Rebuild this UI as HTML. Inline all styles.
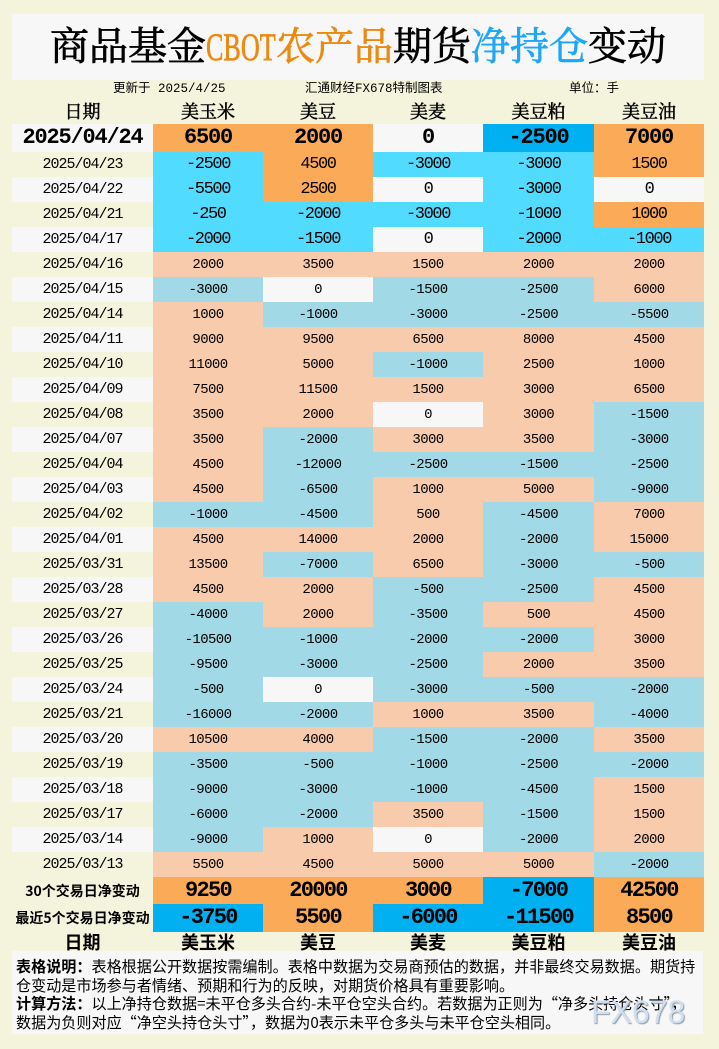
<!DOCTYPE html>
<html><head><meta charset="utf-8">
<style>
*{margin:0;padding:0;box-sizing:border-box}
html,body{width:719px;height:1049px;overflow:hidden;background:#f4f4dc}
body{position:relative;font-family:"Liberation Sans","Noto Sans CJK SC",sans-serif;color:#000}
.title{position:absolute;left:12px;top:14px;width:692px;height:66px;background:#f7f7f7;text-align:center;font-family:"Liberation Serif","Noto Serif CJK SC",serif;font-size:39px;line-height:68px;white-space:nowrap;-webkit-text-stroke:0.7px currentColor}
.title .cb{display:inline-block;width:70px;overflow:visible;vertical-align:top}
.title .cb span{display:inline-block;transform:scaleX(0.67);transform-origin:0 0;font-family:"Liberation Serif",serif}
.or{color:#ec8a10}.bl{color:#1ea6f8}
.meta{position:absolute;top:81px;font-family:"Liberation Mono","Noto Sans CJK SC",monospace;font-size:12.5px;line-height:16px;white-space:nowrap}
.hd{position:absolute;top:100px;height:22px;line-height:22px;text-align:center;font-family:"Noto Serif CJK SC",serif;font-size:18px;-webkit-text-stroke:0.5px #000;white-space:nowrap}
.ft{position:absolute;top:932px;height:20px;line-height:20px;text-align:center;font-family:"Noto Sans CJK SC",sans-serif;font-weight:bold;font-size:18px;white-space:nowrap}
table{position:absolute;left:12px;top:124px;border-collapse:collapse;table-layout:fixed;width:692px}
td{padding:0;text-align:center;vertical-align:middle;line-height:1;white-space:nowrap;font-family:"Liberation Mono",monospace}
tr{height:25px}
tr.t td{font-size:17px;letter-spacing:-1.4px}
tr td{font-size:14px;letter-spacing:-0.6px}
tr.top{height:28px}
tr.top td{font-size:22px;font-weight:bold;letter-spacing:-1.2px}
tr.s1{height:27px}
tr.s2{height:28px}
tr.s1 td,tr.s2 td{font-size:22px;font-weight:bold;letter-spacing:-1.7px}
tr.s1 td.lab,tr.s2 td.lab{font-family:"Noto Sans CJK SC",sans-serif;font-size:14px;letter-spacing:0;font-weight:bold}
tr td.d{font-size:15px;letter-spacing:-1px}
tr.top td.d{font-size:22px;letter-spacing:-1.2px}
.o{background:#fbab58}.c{background:#51dcff}.b{background:#00b0f0}
.p{background:#f8cbad}.l{background:#a2d9e6}.z{background:#f7f7f7}
.notes{position:absolute;left:12px;top:951px;width:691px;height:83px;background:#f7f7f7;padding:6px 0 0 4px;font-family:"Noto Sans CJK SC",sans-serif;font-size:15.1px;line-height:18.5px;white-space:nowrap;overflow:hidden}
.notes b{font-weight:bold}
.wm{position:absolute;left:591px;top:996px;font-family:"Liberation Sans",sans-serif;font-size:32px;line-height:32px;color:#cfdff0;text-shadow:1px 1px 1px #8f99a6;letter-spacing:0}
</style></head><body>
<div class="title">商品基金<span class="or"><span class="cb"><span>CBOT</span></span>农产品</span>期货<span class="bl">净持仓</span>变动</div>
<div class="meta" style="left:113px">更新于 2025/4/25</div>
<div class="meta" style="left:305px">汇通财经FX678特制图表</div>
<div class="meta" style="left:569px">单位：手</div>

<div class="hd" style="left:12px;width:141px">日期</div>
<div class="hd" style="left:153px;width:110px">美玉米</div>
<div class="hd" style="left:263px;width:110px">美豆</div>
<div class="hd" style="left:373px;width:110px">美麦</div>
<div class="hd" style="left:483px;width:111px">美豆粕</div>
<div class="hd" style="left:594px;width:110px">美豆油</div>

<table>
<colgroup><col style="width:141px"><col style="width:110px"><col style="width:110px"><col style="width:110px"><col style="width:111px"><col style="width:110px"></colgroup>
<tr class="top"><td class="d z">2025/04/24</td><td class="o">6500</td><td class="o">2000</td><td class="z">0</td><td class="b">-2500</td><td class="o">7000</td></tr>
<tr class="t"><td class="d">2025/04/23</td><td class="c">-2500</td><td class="o">4500</td><td class="c">-3000</td><td class="c">-3000</td><td class="o">1500</td></tr>
<tr class="t"><td class="d z">2025/04/22</td><td class="c">-5500</td><td class="o">2500</td><td class="z">0</td><td class="c">-3000</td><td class="z">0</td></tr>
<tr class="t"><td class="d">2025/04/21</td><td class="c">-250</td><td class="c">-2000</td><td class="c">-3000</td><td class="c">-1000</td><td class="o">1000</td></tr>
<tr class="t"><td class="d z">2025/04/17</td><td class="c">-2000</td><td class="c">-1500</td><td class="z">0</td><td class="c">-2000</td><td class="c">-1000</td></tr>
<tr><td class="d">2025/04/16</td><td class="p">2000</td><td class="p">3500</td><td class="p">1500</td><td class="p">2000</td><td class="p">2000</td></tr>
<tr><td class="d z">2025/04/15</td><td class="l">-3000</td><td class="z">0</td><td class="l">-1500</td><td class="l">-2500</td><td class="p">6000</td></tr>
<tr><td class="d">2025/04/14</td><td class="p">1000</td><td class="l">-1000</td><td class="l">-3000</td><td class="l">-2500</td><td class="l">-5500</td></tr>
<tr><td class="d z">2025/04/11</td><td class="p">9000</td><td class="p">9500</td><td class="p">6500</td><td class="p">8000</td><td class="p">4500</td></tr>
<tr><td class="d">2025/04/10</td><td class="p">11000</td><td class="p">5000</td><td class="l">-1000</td><td class="p">2500</td><td class="p">1000</td></tr>
<tr><td class="d z">2025/04/09</td><td class="p">7500</td><td class="p">11500</td><td class="p">1500</td><td class="p">3000</td><td class="p">6500</td></tr>
<tr><td class="d">2025/04/08</td><td class="p">3500</td><td class="p">2000</td><td class="z">0</td><td class="p">3000</td><td class="l">-1500</td></tr>
<tr><td class="d z">2025/04/07</td><td class="p">3500</td><td class="l">-2000</td><td class="p">3000</td><td class="p">3500</td><td class="l">-3000</td></tr>
<tr><td class="d">2025/04/04</td><td class="p">4500</td><td class="l">-12000</td><td class="l">-2500</td><td class="l">-1500</td><td class="l">-2500</td></tr>
<tr><td class="d z">2025/04/03</td><td class="p">4500</td><td class="l">-6500</td><td class="p">1000</td><td class="p">5000</td><td class="l">-9000</td></tr>
<tr><td class="d">2025/04/02</td><td class="l">-1000</td><td class="l">-4500</td><td class="p">500</td><td class="l">-4500</td><td class="p">7000</td></tr>
<tr><td class="d z">2025/04/01</td><td class="p">4500</td><td class="p">14000</td><td class="p">2000</td><td class="l">-2000</td><td class="p">15000</td></tr>
<tr><td class="d">2025/03/31</td><td class="p">13500</td><td class="l">-7000</td><td class="p">6500</td><td class="l">-3000</td><td class="l">-500</td></tr>
<tr><td class="d z">2025/03/28</td><td class="p">4500</td><td class="p">2000</td><td class="l">-500</td><td class="l">-2500</td><td class="p">4500</td></tr>
<tr><td class="d">2025/03/27</td><td class="l">-4000</td><td class="p">2000</td><td class="l">-3500</td><td class="p">500</td><td class="p">4500</td></tr>
<tr><td class="d z">2025/03/26</td><td class="l">-10500</td><td class="l">-1000</td><td class="l">-2000</td><td class="l">-2000</td><td class="p">3000</td></tr>
<tr><td class="d">2025/03/25</td><td class="l">-9500</td><td class="l">-3000</td><td class="l">-2500</td><td class="p">2000</td><td class="p">3500</td></tr>
<tr><td class="d z">2025/03/24</td><td class="l">-500</td><td class="z">0</td><td class="l">-3000</td><td class="l">-500</td><td class="l">-2000</td></tr>
<tr><td class="d">2025/03/21</td><td class="l">-16000</td><td class="l">-2000</td><td class="p">1000</td><td class="p">3500</td><td class="l">-4000</td></tr>
<tr><td class="d z">2025/03/20</td><td class="p">10500</td><td class="p">4000</td><td class="l">-1500</td><td class="l">-2000</td><td class="p">3500</td></tr>
<tr><td class="d">2025/03/19</td><td class="l">-3500</td><td class="l">-500</td><td class="l">-1000</td><td class="l">-2500</td><td class="l">-2000</td></tr>
<tr><td class="d z">2025/03/18</td><td class="l">-9000</td><td class="l">-3000</td><td class="l">-1000</td><td class="l">-4500</td><td class="p">1500</td></tr>
<tr><td class="d">2025/03/17</td><td class="l">-6000</td><td class="l">-2000</td><td class="p">3500</td><td class="l">-1500</td><td class="p">1500</td></tr>
<tr><td class="d z">2025/03/14</td><td class="l">-9000</td><td class="p">1000</td><td class="z">0</td><td class="l">-2000</td><td class="p">2000</td></tr>
<tr><td class="d">2025/03/13</td><td class="p">5500</td><td class="p">4500</td><td class="p">5000</td><td class="p">5000</td><td class="l">-2000</td></tr>
<tr class="s1"><td class="lab">30个交易日净变动</td><td class="o">9250</td><td class="o">20000</td><td class="o">3000</td><td class="b">-7000</td><td class="o">42500</td></tr>
<tr class="s2"><td class="lab">最近5个交易日净变动</td><td class="b">-3750</td><td class="o">5500</td><td class="b">-6000</td><td class="b">-11500</td><td class="o">8500</td></tr>
</table>

<div class="ft" style="left:12px;width:141px">日期</div>
<div class="ft" style="left:153px;width:110px">美玉米</div>
<div class="ft" style="left:263px;width:110px">美豆</div>
<div class="ft" style="left:373px;width:110px">美麦</div>
<div class="ft" style="left:483px;width:111px">美豆粕</div>
<div class="ft" style="left:594px;width:110px">美豆油</div>

<div class="notes"><b>表格说明：</b>表格根据公开数据按需编制。表格中数据为交易商预估的数据，并非最终交易数据。期货持<br>仓变动是市场参与者情绪、预期和行为的反映，对期货价格具有重要影响。<br><b>计算方法：</b>以上净持仓数据=未平仓多头合约-未平仓空头合约。若数据为正则为“净多头持仓头寸”，<br>数据为负则对应“净空头持仓头寸”，数据为0表示未平仓多头与未平仓空头相同。</div>
<div class="wm">FX678</div>
</body></html>
